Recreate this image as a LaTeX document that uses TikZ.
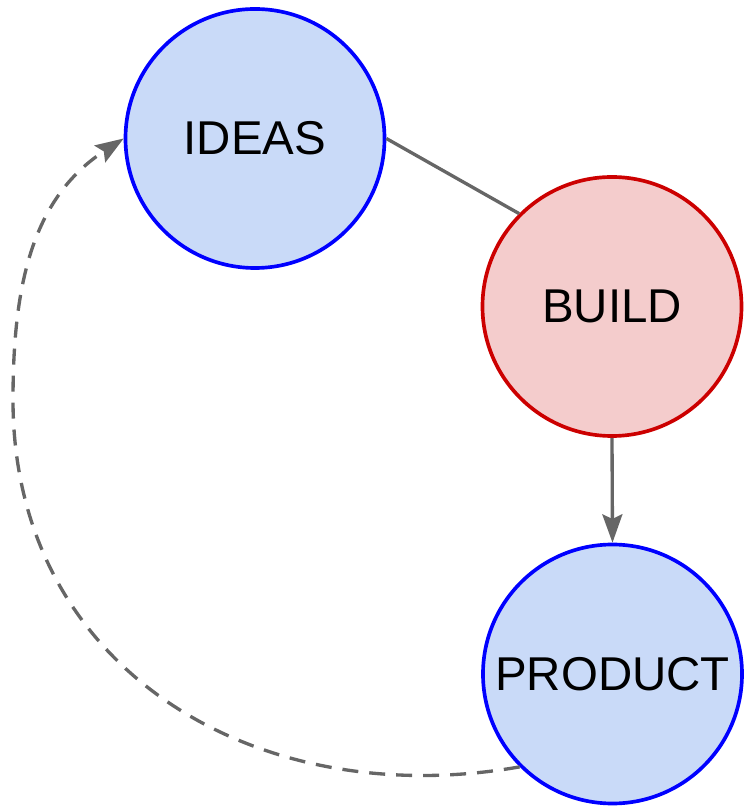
\documentclass[tikz,border=0pt]{standalone}
\usepackage{fontspec}
\setmainfont{Liberation Sans}
\usetikzlibrary{arrows.meta}

\definecolor{ideablue}{HTML}{C9DAF8}
\definecolor{buildred}{HTML}{F4CCCC}
\definecolor{borderred}{HTML}{CC0000}
\definecolor{linegray}{HTML}{666666}

\begin{document}
\begin{tikzpicture}[
		x=0.03cm,
		y=0.03cm,
		stage/.style={circle, line width=0.11cm, minimum size=7.77cm, inner sep=0pt, font=\fontsize{40.5}{48}\selectfont},
		bluestage/.style={stage, draw=blue, fill=ideablue},
		redstage/.style={stage, draw=borderred, fill=buildred},
		link/.style={line width=0.1cm, linegray},
		tip/.style={-{Stealth[length=0.85cm, width=0.6cm, inset=0.14cm]}}
	]

		% frame
		\useasboundingbox (0,0) rectangle (744,809);

		% circles
		\node[bluestage] (ideas) at (255,670.5) {IDEAS};
		\node[redstage] (build) at (612,502.5) {BUILD};
		\node[bluestage] (product) at (612.5,135) {PRODUCT};

		% solid links
		\draw[link] (ideas.east) -- (build.north west);
		\draw[link, tip] (build.south) -- (product.north);

		% back loop
		\coordinate (bend) at (13,409);
		\draw[link, tip, dash pattern=on 0.48cm off 0.33cm] (product.south west) to[out=190, in=-90, looseness=1.1] (bend) to[out=90, in=213] (ideas.west);

	\end{tikzpicture}
\end{document}
